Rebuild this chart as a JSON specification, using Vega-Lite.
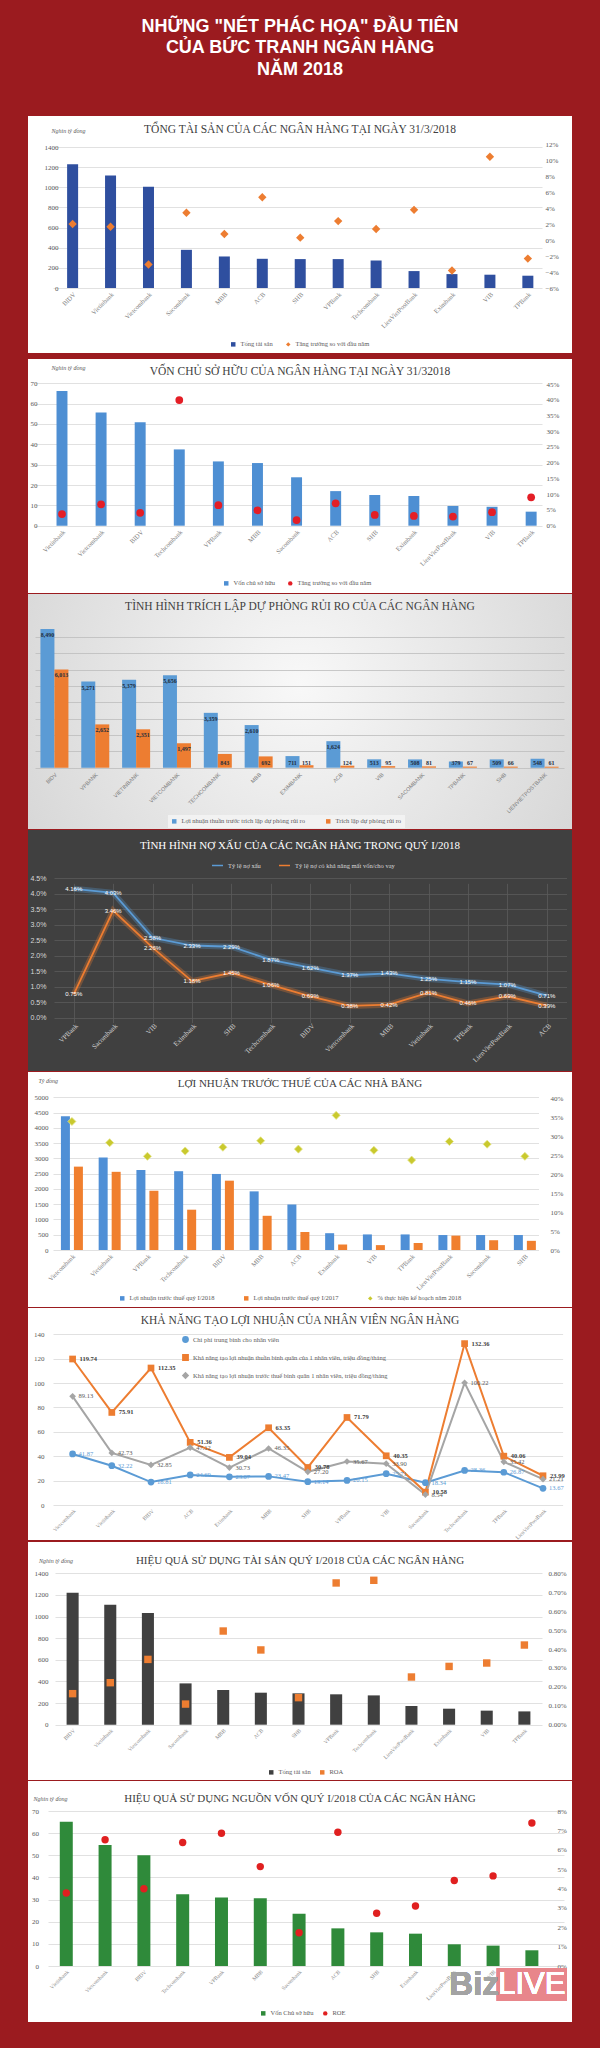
{
"$schema": "https://vega.github.io/schema/vega-lite/v6.json",
"background": "#9b1b1f",
"padding": {"left": 28, "right": 28, "top": 0, "bottom": 27},
"config": {
  "view": {"stroke": null},
  "axis": {"domain": false, "ticks": false, "labelFont": "Liberation Serif", "labelFontSize": 7, "labelColor": "#595959", "gridColor": "#d9d9d9", "gridWidth": 0.8, "titleFont": "Liberation Serif", "labelOverlap": false},
  "legend": {"labelFont": "Liberation Serif", "labelFontSize": 6.5, "labelColor": "#595959", "symbolSize": 20, "labelLimit": 400},
  "title": {"font": "Liberation Serif", "fontSize": 11, "fontWeight": "normal", "color": "#404040", "anchor": "middle"}
},
"datasets": {
  "p1": [
    {"bank": "BIDV", "assets": 1228, "growth": 0.020},
    {"bank": "Vietinbank", "assets": 1117, "growth": 0.0166},
    {"bank": "Vietcombank", "assets": 1005, "growth": -0.0306},
    {"bank": "Sacombank", "assets": 379, "growth": 0.034},
    {"bank": "MBB", "assets": 313, "growth": 0.0075},
    {"bank": "ACB", "assets": 290, "growth": 0.0534},
    {"bank": "SHB", "assets": 287, "growth": 0.0029},
    {"bank": "VPBank", "assets": 287, "growth": 0.0236},
    {"bank": "Techcombank", "assets": 273, "growth": 0.0137},
    {"bank": "LienVietPostBank", "assets": 168, "growth": 0.0377},
    {"bank": "Eximbank", "assets": 138, "growth": -0.0381},
    {"bank": "VIB", "assets": 132, "growth": 0.104},
    {"bank": "TPBank", "assets": 122, "growth": -0.0232}
  ],
  "p2": [
    {"bank": "Vietinbank", "equity": 66.2, "growth": 0.037},
    {"bank": "Vietcombank", "equity": 55.7, "growth": 0.068},
    {"bank": "BIDV", "equity": 50.8, "growth": 0.041},
    {"bank": "Techcombank", "equity": 37.5, "growth": 0.399},
    {"bank": "VPBank", "equity": 31.6, "growth": 0.065},
    {"bank": "MBB", "equity": 30.8, "growth": 0.049},
    {"bank": "Sacombank", "equity": 23.8, "growth": 0.018},
    {"bank": "ACB", "equity": 17.0, "growth": 0.071},
    {"bank": "SHB", "equity": 15.1, "growth": 0.034},
    {"bank": "Eximbank", "equity": 14.6, "growth": 0.031},
    {"bank": "LienVietPostBank", "equity": 9.7, "growth": 0.029},
    {"bank": "VIB", "equity": 9.3, "growth": 0.043},
    {"bank": "TPBank", "equity": 6.9, "growth": 0.09}
  ],
  "p3": [
    {"bank": "BIDV", "series": "Lợi nhuận thuần trước trích lập dự phòng rủi ro", "value": 8490},
    {"bank": "BIDV", "series": "Trích lập dự phòng rủi ro", "value": 6013},
    {"bank": "VPBANK", "series": "Lợi nhuận thuần trước trích lập dự phòng rủi ro", "value": 5271},
    {"bank": "VPBANK", "series": "Trích lập dự phòng rủi ro", "value": 2652},
    {"bank": "VIETINBANK", "series": "Lợi nhuận thuần trước trích lập dự phòng rủi ro", "value": 5379},
    {"bank": "VIETINBANK", "series": "Trích lập dự phòng rủi ro", "value": 2351},
    {"bank": "VIETCOMBANK", "series": "Lợi nhuận thuần trước trích lập dự phòng rủi ro", "value": 5656},
    {"bank": "VIETCOMBANK", "series": "Trích lập dự phòng rủi ro", "value": 1497},
    {"bank": "TECHCOMBANK", "series": "Lợi nhuận thuần trước trích lập dự phòng rủi ro", "value": 3359},
    {"bank": "TECHCOMBANK", "series": "Trích lập dự phòng rủi ro", "value": 843},
    {"bank": "MBB", "series": "Lợi nhuận thuần trước trích lập dự phòng rủi ro", "value": 2610},
    {"bank": "MBB", "series": "Trích lập dự phòng rủi ro", "value": 692},
    {"bank": "EXIMBANK", "series": "Lợi nhuận thuần trước trích lập dự phòng rủi ro", "value": 711},
    {"bank": "EXIMBANK", "series": "Trích lập dự phòng rủi ro", "value": 151},
    {"bank": "ACB", "series": "Lợi nhuận thuần trước trích lập dự phòng rủi ro", "value": 1624},
    {"bank": "ACB", "series": "Trích lập dự phòng rủi ro", "value": 124},
    {"bank": "VIB", "series": "Lợi nhuận thuần trước trích lập dự phòng rủi ro", "value": 513},
    {"bank": "VIB", "series": "Trích lập dự phòng rủi ro", "value": 95},
    {"bank": "SACOMBANK", "series": "Lợi nhuận thuần trước trích lập dự phòng rủi ro", "value": 508},
    {"bank": "SACOMBANK", "series": "Trích lập dự phòng rủi ro", "value": 81},
    {"bank": "TPBANK", "series": "Lợi nhuận thuần trước trích lập dự phòng rủi ro", "value": 379},
    {"bank": "TPBANK", "series": "Trích lập dự phòng rủi ro", "value": 67},
    {"bank": "SHB", "series": "Lợi nhuận thuần trước trích lập dự phòng rủi ro", "value": 509},
    {"bank": "SHB", "series": "Trích lập dự phòng rủi ro", "value": 66},
    {"bank": "LIENVIETPOSTBANK", "series": "Lợi nhuận thuần trước trích lập dự phòng rủi ro", "value": 548},
    {"bank": "LIENVIETPOSTBANK", "series": "Trích lập dự phòng rủi ro", "value": 61}
  ],
  "p4": [
    {"bank": "VPBank", "series": "Tỷ lệ nợ xấu", "value": 0.0416},
    {"bank": "Sacombank", "series": "Tỷ lệ nợ xấu", "value": 0.0403},
    {"bank": "VIB", "series": "Tỷ lệ nợ xấu", "value": 0.0258},
    {"bank": "Eximbank", "series": "Tỷ lệ nợ xấu", "value": 0.0233},
    {"bank": "SHB", "series": "Tỷ lệ nợ xấu", "value": 0.0229},
    {"bank": "Techcombank", "series": "Tỷ lệ nợ xấu", "value": 0.0187},
    {"bank": "BIDV", "series": "Tỷ lệ nợ xấu", "value": 0.0162},
    {"bank": "Vietcombank", "series": "Tỷ lệ nợ xấu", "value": 0.0137},
    {"bank": "MBB", "series": "Tỷ lệ nợ xấu", "value": 0.0143},
    {"bank": "Vietinbank", "series": "Tỷ lệ nợ xấu", "value": 0.0125},
    {"bank": "TPBank", "series": "Tỷ lệ nợ xấu", "value": 0.0115},
    {"bank": "LienVietPostBank", "series": "Tỷ lệ nợ xấu", "value": 0.0107},
    {"bank": "ACB", "series": "Tỷ lệ nợ xấu", "value": 0.0071},
    {"bank": "VPBank", "series": "Tỷ lệ nợ có khả năng mất vốn/cho vay", "value": 0.0075},
    {"bank": "Sacombank", "series": "Tỷ lệ nợ có khả năng mất vốn/cho vay", "value": 0.0346},
    {"bank": "VIB", "series": "Tỷ lệ nợ có khả năng mất vốn/cho vay", "value": 0.0226},
    {"bank": "Eximbank", "series": "Tỷ lệ nợ có khả năng mất vốn/cho vay", "value": 0.0118},
    {"bank": "SHB", "series": "Tỷ lệ nợ có khả năng mất vốn/cho vay", "value": 0.0145},
    {"bank": "Techcombank", "series": "Tỷ lệ nợ có khả năng mất vốn/cho vay", "value": 0.0106},
    {"bank": "BIDV", "series": "Tỷ lệ nợ có khả năng mất vốn/cho vay", "value": 0.0069},
    {"bank": "Vietcombank", "series": "Tỷ lệ nợ có khả năng mất vốn/cho vay", "value": 0.0038},
    {"bank": "MBB", "series": "Tỷ lệ nợ có khả năng mất vốn/cho vay", "value": 0.0042},
    {"bank": "Vietinbank", "series": "Tỷ lệ nợ có khả năng mất vốn/cho vay", "value": 0.0081},
    {"bank": "TPBank", "series": "Tỷ lệ nợ có khả năng mất vốn/cho vay", "value": 0.0046},
    {"bank": "LienVietPostBank", "series": "Tỷ lệ nợ có khả năng mất vốn/cho vay", "value": 0.0069},
    {"bank": "ACB", "series": "Tỷ lệ nợ có khả năng mất vốn/cho vay", "value": 0.0039}
  ],
  "p5": [
    {"bank": "Vietcombank", "series": "Lợi nhuận trước thuế quý I/2018", "value": 4380},
    {"bank": "Vietcombank", "series": "Lợi nhuận trước thuế quý I/2017", "value": 2730},
    {"bank": "Vietinbank", "series": "Lợi nhuận trước thuế quý I/2018", "value": 3030},
    {"bank": "Vietinbank", "series": "Lợi nhuận trước thuế quý I/2017", "value": 2560},
    {"bank": "VPBank", "series": "Lợi nhuận trước thuế quý I/2018", "value": 2620},
    {"bank": "VPBank", "series": "Lợi nhuận trước thuế quý I/2017", "value": 1940},
    {"bank": "Techcombank", "series": "Lợi nhuận trước thuế quý I/2018", "value": 2580},
    {"bank": "Techcombank", "series": "Lợi nhuận trước thuế quý I/2017", "value": 1320},
    {"bank": "BIDV", "series": "Lợi nhuận trước thuế quý I/2018", "value": 2490},
    {"bank": "BIDV", "series": "Lợi nhuận trước thuế quý I/2017", "value": 2270},
    {"bank": "MBB", "series": "Lợi nhuận trước thuế quý I/2018", "value": 1920},
    {"bank": "MBB", "series": "Lợi nhuận trước thuế quý I/2017", "value": 1120},
    {"bank": "ACB", "series": "Lợi nhuận trước thuế quý I/2018", "value": 1490},
    {"bank": "ACB", "series": "Lợi nhuận trước thuế quý I/2017", "value": 590},
    {"bank": "Eximbank", "series": "Lợi nhuận trước thuế quý I/2018", "value": 550},
    {"bank": "Eximbank", "series": "Lợi nhuận trước thuế quý I/2017", "value": 180},
    {"bank": "VIB", "series": "Lợi nhuận trước thuế quý I/2018", "value": 510},
    {"bank": "VIB", "series": "Lợi nhuận trước thuế quý I/2017", "value": 160},
    {"bank": "TPBank", "series": "Lợi nhuận trước thuế quý I/2018", "value": 510},
    {"bank": "TPBank", "series": "Lợi nhuận trước thuế quý I/2017", "value": 230},
    {"bank": "LienVietPostBank", "series": "Lợi nhuận trước thuế quý I/2018", "value": 490},
    {"bank": "LienVietPostBank", "series": "Lợi nhuận trước thuế quý I/2017", "value": 470},
    {"bank": "Sacombank", "series": "Lợi nhuận trước thuế quý I/2018", "value": 490},
    {"bank": "Sacombank", "series": "Lợi nhuận trước thuế quý I/2017", "value": 320},
    {"bank": "SHB", "series": "Lợi nhuận trước thuế quý I/2018", "value": 490},
    {"bank": "SHB", "series": "Lợi nhuận trước thuế quý I/2017", "value": 300}
  ],
  "p5b": [
    {"bank": "Vietcombank", "plan": 0.339},
    {"bank": "Vietinbank", "plan": 0.283},
    {"bank": "VPBank", "plan": 0.247},
    {"bank": "Techcombank", "plan": 0.261},
    {"bank": "BIDV", "plan": 0.271},
    {"bank": "MBB", "plan": 0.288},
    {"bank": "ACB", "plan": 0.266},
    {"bank": "Eximbank", "plan": 0.355},
    {"bank": "VIB", "plan": 0.263},
    {"bank": "TPBank", "plan": 0.237},
    {"bank": "LienVietPostBank", "plan": 0.286},
    {"bank": "Sacombank", "plan": 0.279},
    {"bank": "SHB", "plan": 0.247}
  ],
  "p6": [
    {"bank": "Vietcombank", "k": "a", "series": "Chi phí trung bình cho nhân viên", "value": 41.87},
    {"bank": "Vietinbank", "k": "a", "series": "Chi phí trung bình cho nhân viên", "value": 32.22},
    {"bank": "BIDV", "k": "a", "series": "Chi phí trung bình cho nhân viên", "value": 18.81},
    {"bank": "ACB", "k": "a", "series": "Chi phí trung bình cho nhân viên", "value": 24.69},
    {"bank": "Eximbank", "k": "a", "series": "Chi phí trung bình cho nhân viên", "value": 23.07},
    {"bank": "MBB", "k": "a", "series": "Chi phí trung bình cho nhân viên", "value": 23.47},
    {"bank": "SHB", "k": "a", "series": "Chi phí trung bình cho nhân viên", "value": 19.14},
    {"bank": "VPBank", "k": "a", "series": "Chi phí trung bình cho nhân viên", "value": 20.15},
    {"bank": "VIB", "k": "a", "series": "Chi phí trung bình cho nhân viên", "value": 25.71},
    {"bank": "Sacombank", "k": "a", "series": "Chi phí trung bình cho nhân viên", "value": 18.34},
    {"bank": "Techcombank", "k": "a", "series": "Chi phí trung bình cho nhân viên", "value": 28.36},
    {"bank": "TPBank", "k": "a", "series": "Chi phí trung bình cho nhân viên", "value": 26.87},
    {"bank": "LienVietPostBank", "k": "a", "series": "Chi phí trung bình cho nhân viên", "value": 13.67},
    {"bank": "Vietcombank", "k": "b", "series": "Khả năng tạo lợi nhuận thuần bình quân của 1 nhân viên, triệu đồng/tháng", "value": 119.74},
    {"bank": "Vietinbank", "k": "b", "series": "Khả năng tạo lợi nhuận thuần bình quân của 1 nhân viên, triệu đồng/tháng", "value": 75.91},
    {"bank": "BIDV", "k": "b", "series": "Khả năng tạo lợi nhuận thuần bình quân của 1 nhân viên, triệu đồng/tháng", "value": 112.35},
    {"bank": "ACB", "k": "b", "series": "Khả năng tạo lợi nhuận thuần bình quân của 1 nhân viên, triệu đồng/tháng", "value": 51.36},
    {"bank": "Eximbank", "k": "b", "series": "Khả năng tạo lợi nhuận thuần bình quân của 1 nhân viên, triệu đồng/tháng", "value": 39.04},
    {"bank": "MBB", "k": "b", "series": "Khả năng tạo lợi nhuận thuần bình quân của 1 nhân viên, triệu đồng/tháng", "value": 63.35},
    {"bank": "SHB", "k": "b", "series": "Khả năng tạo lợi nhuận thuần bình quân của 1 nhân viên, triệu đồng/tháng", "value": 30.78},
    {"bank": "VPBank", "k": "b", "series": "Khả năng tạo lợi nhuận thuần bình quân của 1 nhân viên, triệu đồng/tháng", "value": 71.79},
    {"bank": "VIB", "k": "b", "series": "Khả năng tạo lợi nhuận thuần bình quân của 1 nhân viên, triệu đồng/tháng", "value": 40.35},
    {"bank": "Sacombank", "k": "b", "series": "Khả năng tạo lợi nhuận thuần bình quân của 1 nhân viên, triệu đồng/tháng", "value": 10.58},
    {"bank": "Techcombank", "k": "b", "series": "Khả năng tạo lợi nhuận thuần bình quân của 1 nhân viên, triệu đồng/tháng", "value": 132.36},
    {"bank": "TPBank", "k": "b", "series": "Khả năng tạo lợi nhuận thuần bình quân của 1 nhân viên, triệu đồng/tháng", "value": 40.06},
    {"bank": "LienVietPostBank", "k": "b", "series": "Khả năng tạo lợi nhuận thuần bình quân của 1 nhân viên, triệu đồng/tháng", "value": 23.99},
    {"bank": "Vietcombank", "k": "c", "series": "Khả năng tạo lợi nhuận trước thuế bình quân 1 nhân viên, triệu đồng/tháng", "value": 89.13},
    {"bank": "Vietinbank", "k": "c", "series": "Khả năng tạo lợi nhuận trước thuế bình quân 1 nhân viên, triệu đồng/tháng", "value": 42.73},
    {"bank": "BIDV", "k": "c", "series": "Khả năng tạo lợi nhuận trước thuế bình quân 1 nhân viên, triệu đồng/tháng", "value": 32.85},
    {"bank": "ACB", "k": "c", "series": "Khả năng tạo lợi nhuận trước thuế bình quân 1 nhân viên, triệu đồng/tháng", "value": 47.12},
    {"bank": "Eximbank", "k": "c", "series": "Khả năng tạo lợi nhuận trước thuế bình quân 1 nhân viên, triệu đồng/tháng", "value": 30.73},
    {"bank": "MBB", "k": "c", "series": "Khả năng tạo lợi nhuận trước thuế bình quân 1 nhân viên, triệu đồng/tháng", "value": 46.35},
    {"bank": "SHB", "k": "c", "series": "Khả năng tạo lợi nhuận trước thuế bình quân 1 nhân viên, triệu đồng/tháng", "value": 27.20},
    {"bank": "VPBank", "k": "c", "series": "Khả năng tạo lợi nhuận trước thuế bình quân 1 nhân viên, triệu đồng/tháng", "value": 35.67},
    {"bank": "VIB", "k": "c", "series": "Khả năng tạo lợi nhuận trước thuế bình quân 1 nhân viên, triệu đồng/tháng", "value": 33.90},
    {"bank": "Sacombank", "k": "c", "series": "Khả năng tạo lợi nhuận trước thuế bình quân 1 nhân viên, triệu đồng/tháng", "value": 8.54},
    {"bank": "Techcombank", "k": "c", "series": "Khả năng tạo lợi nhuận trước thuế bình quân 1 nhân viên, triệu đồng/tháng", "value": 100.22},
    {"bank": "TPBank", "k": "c", "series": "Khả năng tạo lợi nhuận trước thuế bình quân 1 nhân viên, triệu đồng/tháng", "value": 35.42},
    {"bank": "LienVietPostBank", "k": "c", "series": "Khả năng tạo lợi nhuận trước thuế bình quân 1 nhân viên, triệu đồng/tháng", "value": 21.21}
  ],
  "p7": [
    {"bank": "BIDV", "assets": 1221, "roa": 0.00164},
    {"bank": "Vietinbank", "assets": 1110, "roa": 0.00222},
    {"bank": "Vietcombank", "assets": 1033, "roa": 0.00345},
    {"bank": "Sacombank", "assets": 382, "roa": 0.00109},
    {"bank": "MBB", "assets": 321, "roa": 0.00495},
    {"bank": "ACB", "assets": 296, "roa": 0.00395},
    {"bank": "SHB", "assets": 290, "roa": 0.00143},
    {"bank": "VPBank", "assets": 281, "roa": 0.00749},
    {"bank": "Techcombank", "assets": 271, "roa": 0.00763},
    {"bank": "LienVietPostBank", "assets": 173, "roa": 0.00252},
    {"bank": "Eximbank", "assets": 148, "roa": 0.00308},
    {"bank": "VIB", "assets": 130, "roa": 0.00326},
    {"bank": "TPBank", "assets": 123, "roa": 0.00421}
  ],
  "p8": [
    {"bank": "Vietinbank", "equity": 65.2, "roe": 0.0377},
    {"bank": "Vietcombank", "equity": 54.6, "roe": 0.0652},
    {"bank": "BIDV", "equity": 50.0, "roe": 0.0399},
    {"bank": "Techcombank", "equity": 32.4, "roe": 0.0637},
    {"bank": "VPBank", "equity": 30.9, "roe": 0.0685},
    {"bank": "MBB", "equity": 30.6, "roe": 0.0513},
    {"bank": "Sacombank", "equity": 23.6, "roe": 0.0172},
    {"bank": "ACB", "equity": 17.0, "roe": 0.069},
    {"bank": "SHB", "equity": 15.2, "roe": 0.0272},
    {"bank": "Eximbank", "equity": 14.6, "roe": 0.031},
    {"bank": "LienVietPostBank", "equity": 9.8, "roe": 0.0441},
    {"bank": "VIB", "equity": 9.2, "roe": 0.0465},
    {"bank": "TPBank", "equity": 7.1, "roe": 0.0738}
  ]
},
"spacing": 6,
"resolve": {"scale": {"color": "independent", "shape": "independent", "x": "independent", "y": "independent"}, "legend": {"color": "independent", "shape": "independent"}},
"vconcat": [
  {
    "width": 544, "height": 110,
    "data": {"values": [
      {"i": 1, "line": "NHỮNG \"NÉT PHÁC HỌA\" ĐẦU TIÊN"},
      {"i": 2, "line": "CỦA BỨC TRANH NGÂN HÀNG"},
      {"i": 3, "line": "NĂM 2018"}
    ]},
    "mark": {"type": "text", "font": "Liberation Sans", "fontSize": 18, "fontWeight": "bold", "color": "white", "baseline": "middle", "align": "center"},
    "encoding": {
      "y": {"field": "i", "type": "quantitative", "scale": {"domain": [1, 3], "range": [26.7, 69.7], "nice": false, "zero": false}, "axis": null},
      "text": {"field": "line"}
    }
  },
  {
    "width": 544, "height": 237,
    "view": {"fill": "white", "stroke": null},
    "title": {"text": "TỔNG TÀI SẢN CỦA CÁC NGÂN HÀNG TẠI NGÀY 31/3/2018", "offset": -19.5, "fontSize": 11.5},
    "data": {"name": "p1"},
    "layer": [
      {"mark": {"type": "bar"},
       "encoding": {
         "x": {"field": "bank", "type": "nominal", "title": null,
               "scale": {"domain": ["BIDV","Vietinbank","Vietcombank","Sacombank","MBB","ACB","SHB","VPBank","Techcombank","LienVietPostBank","Eximbank","VIB","TPBank"], "range": [25, 514], "paddingInner": 0.71, "paddingOuter": 0.3, "align": 0.62},
               "axis": {"labelAngle": -45, "offset": -65, "labelFontSize": 6.5, "labelColor": "#7f7f7f", "labelPadding": 3}},
         "y": {"field": "assets", "type": "quantitative",
               "scale": {"domain": [0, 1400], "range": [172, 31], "nice": false},
               "axis": {"values": [0,200,400,600,800,1000,1200,1400], "format": "d", "offset": -32, "labelPadding": 2, "title": "Nghìn tỷ đồng", "titleAngle": 0, "titleX": -9, "titleY": 14, "titleAlign": "left", "titleBaseline": "middle", "titleFontSize": 6, "titleFontStyle": "italic", "titleFontWeight": "normal", "titleColor": "#595959"}},
         "color": {"datum": "Tổng tài sản", "scale": {"domain": ["Tổng tài sản", "Tăng trưởng so với đầu năm"], "range": ["#2f4f9f", "#ed7d31"]},
                   "legend": {"orient": "none", "legendX": 202, "legendY": 225, "direction": "horizontal", "title": null, "columnPadding": 12,
                              "encode": {"symbols": {"update": {"shape": {"signal": "datum.value === 'Tổng tài sản' ? 'square' : 'diamond'"}}}}}}
       }},
      {"mark": {"type": "point", "shape": "diamond", "filled": true, "size": 70, "opacity": 1},
       "encoding": {
         "x": {"field": "bank", "type": "nominal"},
         "y": {"field": "growth", "type": "quantitative",
               "scale": {"domain": [-0.06, 0.12], "range": [172, 28], "nice": false},
               "axis": {"orient": "right", "values": [-0.06,-0.04,-0.02,0,0.02,0.04,0.06,0.08,0.1,0.12], "format": ".0%", "offset": -29, "labelPadding": 2, "grid": false, "title": null}},
         "color": {"datum": "Tăng trưởng so với đầu năm"}
       }}
    ],
    "resolve": {"scale": {"y": "independent"}}
  },
  {
    "spacing": 1,
    "resolve": {"scale": {"color": "independent", "shape": "independent", "x": "independent", "y": "independent"}, "legend": {"color": "independent", "shape": "independent"}},
    "vconcat": [
      {
        "width": 544, "height": 234,
        "view": {"fill": "white", "stroke": null},
        "title": {"text": "VỐN CHỦ SỞ HỮU CỦA NGÂN HÀNG TẠI NGÀY 31/32018", "offset": -18, "fontSize": 11.5},
        "data": {"name": "p2"},
        "layer": [
          {"mark": {"type": "bar"},
           "encoding": {
             "x": {"field": "bank", "type": "nominal", "title": null,
                   "scale": {"domain": ["Vietinbank","Vietcombank","BIDV","Techcombank","VPBank","MBB","Sacombank","ACB","SHB","Eximbank","LienVietPostBank","VIB","TPBank"], "range": [7, 514], "paddingInner": 0.72, "paddingOuter": 0.344, "align": 0.8},
                   "axis": {"labelAngle": -45, "offset": -67.3, "labelFontSize": 6.5, "labelColor": "#7f7f7f", "labelPadding": 3}},
             "y": {"field": "equity", "type": "quantitative",
                   "scale": {"domain": [0, 70], "range": [166.7, 24.3], "nice": false},
                   "axis": {"values": [0,10,20,30,40,50,60,70], "offset": -11, "labelPadding": 2, "title": "Nghìn tỷ đồng", "titleAngle": 0, "titleX": 12, "titleY": 8, "titleAlign": "left", "titleBaseline": "middle", "titleFontSize": 6, "titleFontStyle": "italic", "titleFontWeight": "normal", "titleColor": "#595959"}},
             "color": {"datum": "Vốn chủ sở hữu", "scale": {"domain": ["Vốn chủ sở hữu", "Tăng trưởng so với đầu năm"], "range": ["#4e8fd3", "#e41e26"]},
                       "legend": {"orient": "none", "legendX": 195, "legendY": 221, "direction": "horizontal", "title": null, "columnPadding": 12,
                                  "encode": {"symbols": {"update": {"shape": {"signal": "datum.value === 'Vốn chủ sở hữu' ? 'square' : 'circle'"}}}}}}
           }},
          {"mark": {"type": "point", "shape": "circle", "filled": true, "size": 60, "opacity": 1},
           "encoding": {
             "x": {"field": "bank", "type": "nominal"},
             "y": {"field": "growth", "type": "quantitative",
                   "scale": {"domain": [0, 0.45], "range": [166.7, 25], "nice": false},
                   "axis": {"orient": "right", "values": [0,0.05,0.1,0.15,0.2,0.25,0.3,0.35,0.4,0.45], "format": ".0%", "offset": -28, "labelPadding": 2, "grid": false, "title": null}},
             "color": {"datum": "Tăng trưởng so với đầu năm"}
           }}
        ],
        "resolve": {"scale": {"y": "independent"}}
      },
      {
        "width": 544, "height": 235,
        "view": {"fill": {"gradient": "radial", "x1": 0.5, "y1": 0.45, "x2": 0.5, "y2": 0.45, "r1": 0, "r2": 0.75, "stops": [{"offset": 0, "color": "#f8f8f8"}, {"offset": 1, "color": "#cdcdcd"}]}, "stroke": null},
        "title": {"text": "TÌNH HÌNH TRÍCH LẬP DỰ PHÒNG RỦI RO CỦA CÁC NGÂN HÀNG", "offset": -18.5, "fontSize": 11.5},
        "data": {"name": "p3"},
        "encoding": {
          "x": {"field": "bank", "type": "nominal", "title": null,
                "scale": {"domain": ["BIDV","VPBANK","VIETINBANK","VIETCOMBANK","TECHCOMBANK","MBB","EXIMBANK","ACB","VIB","SACOMBANK","TPBANK","SHB","LIENVIETPOSTBANK"], "range": [7, 536], "paddingInner": 0.265, "paddingOuter": 0.108},
                "axis": {"labelAngle": -45, "offset": -61.3, "labelFontSize": 5.5, "labelColor": "#7f7f7f", "labelPadding": 4, "labelFont": "Liberation Sans"}},
          "y": {"field": "value", "type": "quantitative",
                "scale": {"domain": [0, 9000], "range": [173.7, 26.7], "nice": false},
                "axis": {"values": [0,1000,2000,3000,4000,5000,6000,7000,8000], "labels": false, "title": null, "gridColor": "#bdbdbd"}}
        },
        "layer": [
          {"transform": [{"filter": "datum.series === 'Lợi nhuận thuần trước trích lập dự phòng rủi ro'"}],
           "mark": {"type": "bar", "width": 14, "xOffset": -7},
           "encoding": {
             "color": {"datum": "Lợi nhuận thuần trước trích lập dự phòng rủi ro", "scale": {"domain": ["Lợi nhuận thuần trước trích lập dự phòng rủi ro", "Trích lập dự phòng rủi ro"], "range": ["#5b9bd5", "#ed7d31"]},
                       "legend": {"orient": "none", "legendX": 140, "legendY": 221, "direction": "horizontal", "title": null, "columnPadding": 20, "fillColor": "#f2f2f2", "padding": 3, "symbolType": "square"}}
           }},
          {"transform": [{"filter": "datum.series === 'Trích lập dự phòng rủi ro'"}],
           "mark": {"type": "bar", "width": 14, "xOffset": 7},
           "encoding": {"color": {"datum": "Trích lập dự phòng rủi ro"}}},
          {"transform": [{"filter": "datum.series === 'Lợi nhuận thuần trước trích lập dự phòng rủi ro' && datum.value >= 1000"}],
           "mark": {"type": "text", "baseline": "top", "dy": 3, "xOffset": -7, "fontSize": 6, "fontWeight": "bold", "font": "Liberation Serif", "color": "#1f2d3d"},
           "encoding": {"text": {"field": "value", "format": ","}}},
          {"transform": [{"filter": "datum.series === 'Lợi nhuận thuần trước trích lập dự phòng rủi ro' && datum.value < 1000"}],
           "mark": {"type": "text", "baseline": "bottom", "dy": -2, "xOffset": -7, "fontSize": 6, "fontWeight": "bold", "font": "Liberation Serif", "color": "#1f2d3d"},
           "encoding": {"text": {"field": "value", "format": ","}, "y": {"datum": 0}}},
          {"transform": [{"filter": "datum.series === 'Trích lập dự phòng rủi ro' && datum.value >= 1000"}],
           "mark": {"type": "text", "baseline": "top", "dy": 3, "xOffset": 7, "fontSize": 6, "fontWeight": "bold", "font": "Liberation Serif", "color": "#1f2d3d"},
           "encoding": {"text": {"field": "value", "format": ","}}},
          {"transform": [{"filter": "datum.series === 'Trích lập dự phòng rủi ro' && datum.value < 1000"}],
           "mark": {"type": "text", "baseline": "bottom", "dy": -2, "xOffset": 7, "fontSize": 6, "fontWeight": "bold", "font": "Liberation Serif", "color": "#1f2d3d"},
           "encoding": {"text": {"field": "value", "format": ","}, "y": {"datum": 0}}}
        ]
      },
      {
        "width": 544, "height": 241,
        "view": {"fill": "#404040", "stroke": null},
        "title": {"text": "TÌNH HÌNH NỢ XẤU CỦA CÁC NGÂN HÀNG TRONG QUÝ I/2018", "color": "white", "offset": -20.5},
        "data": {"name": "p4"},
        "encoding": {
          "x": {"field": "bank", "type": "nominal", "title": null,
                "scale": {"domain": ["VPBank","Sacombank","VIB","Eximbank","SHB","Techcombank","BIDV","Vietcombank","MBB","Vietinbank","TPBank","LienVietPostBank","ACB"], "range": [26, 538.5], "paddingInner": 0, "paddingOuter": 0},
                "axis": {"labelAngle": -45, "offset": -53.3, "grid": true, "bandPosition": 0, "gridColor": "#5a5a5a", "labelColor": "#d0d0d0", "labelFontSize": 7, "labelPadding": 4}},
          "y": {"field": "value", "type": "quantitative",
                "scale": {"domain": [0, 0.045], "range": [187.7, 48.3], "nice": false},
                "axis": {"values": [0,0.005,0.01,0.015,0.02,0.025,0.03,0.035,0.04,0.045], "format": ".1%", "offset": -20, "labelPadding": 2, "gridColor": "#5a5a5a", "labelColor": "#d9d9d9", "labelFont": "Liberation Sans", "labelFontSize": 7, "title": null}},
          "color": {"field": "series", "type": "nominal", "scale": {"domain": ["Tỷ lệ nợ xấu", "Tỷ lệ nợ có khả năng mất vốn/cho vay"], "range": ["#5b9bd5", "#ed7d31"]},
                    "legend": {"orient": "none", "legendX": 183, "legendY": 29, "direction": "horizontal", "title": null, "symbolType": "stroke", "symbolStrokeWidth": 1.5, "symbolSize": 120, "symbolOpacity": 1, "labelColor": "#d9d9d9", "columnPadding": 15}}
        },
        "layer": [
          {"mark": {"type": "line", "strokeWidth": 6, "opacity": 0.3}},
          {"mark": {"type": "line", "strokeWidth": 1.8}},
          {"mark": {"type": "text", "fontSize": 6, "font": "Liberation Sans"},
           "encoding": {"text": {"field": "value", "format": ".2%"}, "color": {"value": "white"}}}
        ]
      },
      {
        "width": 544, "height": 235,
        "view": {"fill": "white", "stroke": null},
        "title": {"text": "LỢI NHUẬN TRƯỚC THUẾ CỦA CÁC NHÀ BĂNG", "offset": -16.5},
        "layer": [
          {"data": {"name": "p5"},
           "transform": [{"filter": "datum.series === 'Lợi nhuận trước thuế quý I/2018'"}],
           "mark": {"type": "bar", "width": 9, "xOffset": -6.5},
           "encoding": {
             "x": {"field": "bank", "type": "nominal", "title": null,
                   "scale": {"domain": ["Vietcombank","Vietinbank","VPBank","Techcombank","BIDV","MBB","ACB","Eximbank","VIB","TPBank","LienVietPostBank","Sacombank","SHB"], "range": [25, 510.5], "paddingInner": 0.43, "paddingOuter": 0.146, "align": 0.74},
                   "axis": {"labelAngle": -45, "offset": -57, "labelFontSize": 6.5, "labelColor": "#7f7f7f", "labelPadding": 3}},
             "y": {"field": "value", "type": "quantitative",
                   "scale": {"domain": [0, 5000], "range": [178, 25.3], "nice": false},
                   "axis": {"values": [0,500,1000,1500,2000,2500,3000,3500,4000,4500,5000], "format": "d", "offset": -22, "labelPadding": 2, "title": "Tỷ đồng", "titleAngle": 0, "titleX": -12, "titleY": 8, "titleAlign": "left", "titleBaseline": "middle", "titleFontSize": 6, "titleFontStyle": "italic", "titleFontWeight": "normal", "titleColor": "#595959"}},
             "color": {"datum": "Lợi nhuận trước thuế quý I/2018", "scale": {"domain": ["Lợi nhuận trước thuế quý I/2018", "Lợi nhuận trước thuế quý I/2017", "% thực hiện kế hoạch năm 2018"], "range": ["#4f8fd6", "#f07f2e", "#c9c92e"]},
                       "legend": {"orient": "none", "legendX": 91, "legendY": 223, "direction": "horizontal", "title": null, "columnPadding": 28,
                                  "encode": {"symbols": {"update": {"shape": {"signal": "datum.value === '% thực hiện kế hoạch năm 2018' ? 'diamond' : 'square'"}}}}}}
           }},
          {"data": {"name": "p5"},
           "transform": [{"filter": "datum.series === 'Lợi nhuận trước thuế quý I/2017'"}],
           "mark": {"type": "bar", "width": 9, "xOffset": 6.5},
           "encoding": {
             "x": {"field": "bank", "type": "nominal"},
             "y": {"field": "value", "type": "quantitative", "scale": {"domain": [0, 5000], "range": [178, 25.3], "nice": false}, "axis": null},
             "color": {"datum": "Lợi nhuận trước thuế quý I/2017"}
           }},
          {"data": {"name": "p5b"},
           "mark": {"type": "point", "shape": "diamond", "filled": true, "size": 65, "opacity": 1, "stroke": "#e4e48a", "strokeWidth": 0.8},
           "encoding": {
             "x": {"field": "bank", "type": "nominal"},
             "y": {"field": "plan", "type": "quantitative",
                   "scale": {"domain": [0, 0.4], "range": [178, 26.3], "nice": false},
                   "axis": {"orient": "right", "values": [0,0.05,0.1,0.15,0.2,0.25,0.3,0.35,0.4], "format": ".0%", "offset": -24, "labelPadding": 2, "grid": false, "title": null}},
             "color": {"datum": "% thực hiện kế hoạch năm 2018"}
           }}
        ],
        "resolve": {"scale": {"y": "independent"}}
      },
      {
        "width": 544, "height": 232,
        "view": {"fill": "white", "stroke": null},
        "title": {"text": "KHẢ NĂNG TẠO LỢI NHUẬN CỦA NHÂN VIÊN NGÂN HÀNG", "offset": -18.5, "fontSize": 11.5},
        "data": {"name": "p6"},
        "encoding": {
          "x": {"field": "bank", "type": "nominal", "title": null,
                "scale": {"domain": ["Vietcombank","Vietinbank","BIDV","ACB","Eximbank","MBB","SHB","VPBank","VIB","Sacombank","Techcombank","TPBank","LienVietPostBank"], "range": [25, 534.6], "paddingInner": 0, "paddingOuter": 0},
                "axis": {"labelAngle": -45, "offset": -35, "labelFontSize": 5.5, "labelColor": "#8c8c8c", "labelPadding": 3}},
          "y": {"field": "value", "type": "quantitative",
                "scale": {"domain": [0, 140], "range": [197, 26.3], "nice": false},
                "axis": {"values": [0,20,40,60,80,100,120,140], "offset": -18, "labelPadding": 2, "title": null}},
          "color": {"field": "series", "type": "nominal",
                    "scale": {"domain": ["Chi phí trung bình cho nhân viên", "Khả năng tạo lợi nhuận thuần bình quân của 1 nhân viên, triệu đồng/tháng", "Khả năng tạo lợi nhuận trước thuế bình quân 1 nhân viên, triệu đồng/tháng"], "range": ["#5b9bd5", "#ed7d31", "#a5a5a5"]},
                    "legend": {"orient": "none", "legendX": 154, "legendY": 28, "direction": "vertical", "title": null, "symbolSize": 28, "symbolOpacity": 1, "rowPadding": 5}}
        },
        "layer": [
          {"mark": {"type": "line", "strokeWidth": 2}},
          {"mark": {"type": "point", "filled": true, "size": 45, "opacity": 1},
           "encoding": {"shape": {"field": "series", "type": "nominal", "scale": {"domain": ["Chi phí trung bình cho nhân viên", "Khả năng tạo lợi nhuận thuần bình quân của 1 nhân viên, triệu đồng/tháng", "Khả năng tạo lợi nhuận trước thuế bình quân 1 nhân viên, triệu đồng/tháng"], "range": ["circle", "square", "diamond"]}, "legend": null}}},
          {"transform": [{"filter": "datum.k === 'a'"}],
           "mark": {"type": "text", "align": "left", "dx": 6, "fontSize": 6.5, "font": "Liberation Serif"},
           "encoding": {"text": {"field": "value", "format": ".2f"}, "color": {"value": "#5b9bd5"}}},
          {"transform": [{"filter": "datum.k === 'b'"}],
           "mark": {"type": "text", "align": "left", "dx": 7, "fontSize": 6.5, "fontWeight": "bold", "font": "Liberation Serif"},
           "encoding": {"text": {"field": "value", "format": ".2f"}, "color": {"value": "#404040"}}},
          {"transform": [{"filter": "datum.k === 'c'"}],
           "mark": {"type": "text", "align": "left", "dx": 6, "fontSize": 6.5, "font": "Liberation Serif"},
           "encoding": {"text": {"field": "value", "format": ".2f"}, "color": {"value": "#595959"}}}
        ]
      },
      {
        "width": 544, "height": 238,
        "view": {"fill": "white", "stroke": null},
        "title": {"text": "HIỆU QUẢ SỬ DỤNG TÀI SẢN QUÝ I/2018 CỦA CÁC NGÂN HÀNG", "offset": -23.5},
        "data": {"name": "p7"},
        "layer": [
          {"mark": {"type": "bar"},
           "encoding": {
             "x": {"field": "bank", "type": "nominal", "title": null,
                   "scale": {"domain": ["BIDV","Vietinbank","Vietcombank","Sacombank","MBB","ACB","SHB","VPBank","Techcombank","LienVietPostBank","Eximbank","VIB","TPBank"], "range": [27, 514], "paddingInner": 0.68, "paddingOuter": 0.308, "align": 0.5},
                   "axis": {"labelAngle": -45, "offset": -55.3, "labelFontSize": 5.5, "labelColor": "#8c8c8c", "labelPadding": 3}},
             "y": {"field": "assets", "type": "quantitative",
                   "scale": {"domain": [0, 1400], "range": [182.7, 31.3], "nice": false},
                   "axis": {"values": [0,200,400,600,800,1000,1200,1400], "format": "d", "offset": -22, "labelPadding": 2, "title": "Nghìn tỷ đồng", "titleAngle": 0, "titleX": -11.5, "titleY": 18, "titleAlign": "left", "titleBaseline": "middle", "titleFontSize": 6, "titleFontStyle": "italic", "titleFontWeight": "normal", "titleColor": "#595959"}},
             "color": {"datum": "Tổng tài sản", "scale": {"domain": ["Tổng tài sản", "ROA"], "range": ["#404040", "#ed7d31"]},
                       "legend": {"orient": "none", "legendX": 240, "legendY": 227, "direction": "horizontal", "title": null, "columnPadding": 8, "symbolType": "square"}}
           }},
          {"mark": {"type": "point", "shape": "square", "filled": true, "size": 55, "opacity": 1},
           "encoding": {
             "x": {"field": "bank", "type": "nominal"},
             "y": {"field": "roa", "type": "quantitative",
                   "scale": {"domain": [0, 0.008], "range": [182.7, 31.3], "nice": false},
                   "axis": {"orient": "right", "values": [0,0.001,0.002,0.003,0.004,0.005,0.006,0.007,0.008], "format": ".2%", "offset": -26, "labelPadding": 2, "grid": false, "title": null}},
             "color": {"datum": "ROA"}
           }}
        ],
        "resolve": {"scale": {"y": "independent"}}
      },
      {
        "width": 544, "height": 241,
        "view": {"fill": "white", "stroke": null},
        "title": {"text": "HIỆU QUẢ SỬ DỤNG NGUỒN VỐN QUÝ I/2018 CỦA CÁC NGÂN HÀNG", "offset": -22.5},
        "data": {"name": "p8"},
        "layer": [
          {"mark": {"type": "bar"},
           "encoding": {
             "x": {"field": "bank", "type": "nominal", "title": null,
                   "scale": {"domain": ["Vietinbank","Vietcombank","BIDV","Techcombank","VPBank","MBB","Sacombank","ACB","SHB","Eximbank","LienVietPostBank","VIB","TPBank"], "range": [20, 536], "paddingInner": 0.665, "paddingOuter": 0.482, "align": 0.315},
                   "axis": {"labelAngle": -45, "offset": -56, "labelFontSize": 5.5, "labelColor": "#8c8c8c", "labelPadding": 3}},
             "y": {"field": "equity", "type": "quantitative",
                   "scale": {"domain": [0, 70], "range": [185, 30], "nice": false},
                   "axis": {"values": [0,10,20,30,40,50,60,70], "offset": -12.5, "labelPadding": 2, "title": "Nghìn tỷ đồng", "titleAngle": 0, "titleX": -7.5, "titleY": 17, "titleAlign": "left", "titleBaseline": "middle", "titleFontSize": 6, "titleFontStyle": "italic", "titleFontWeight": "normal", "titleColor": "#595959"}},
             "color": {"datum": "Vốn Chủ sở hữu", "scale": {"domain": ["Vốn Chủ sở hữu", "ROE"], "range": ["#2f8a3a", "#e02020"]},
                       "legend": {"orient": "none", "legendX": 232, "legendY": 229, "direction": "horizontal", "title": null, "columnPadding": 8,
                                  "encode": {"symbols": {"update": {"shape": {"signal": "datum.value === 'ROE' ? 'circle' : 'square'"}}}}}}
           }},
          {"mark": {"type": "point", "shape": "circle", "filled": true, "size": 55, "opacity": 1},
           "encoding": {
             "x": {"field": "bank", "type": "nominal"},
             "y": {"field": "roe", "type": "quantitative",
                   "scale": {"domain": [0, 0.08], "range": [185, 30], "nice": false},
                   "axis": {"orient": "right", "values": [0,0.01,0.02,0.03,0.04,0.05,0.06,0.07,0.08], "format": ".0%", "offset": -17, "labelPadding": 2, "grid": false, "title": null}},
             "color": {"datum": "ROE"}
           }},
          {"mark": {"type": "point", "shape": "M-1,-0.47H1V0.47H-1Z", "filled": true, "color": "#e8868b", "size": 4900, "opacity": 1},
           "encoding": {
             "x": {"datum": "TPBank", "type": "nominal"},
             "y": {"datum": -8.4, "type": "quantitative", "scale": {"domain": [0, 70], "range": [185, 30], "nice": false}, "axis": null}
           }},
          {"mark": {"type": "text", "text": "Biz", "font": "Liberation Sans", "fontWeight": "bold", "fontSize": 33, "color": "#a3a3a3", "dx": -19, "align": "center", "baseline": "middle"},
           "encoding": {
             "x": {"datum": "VIB", "type": "nominal"},
             "y": {"datum": -8.4, "type": "quantitative", "scale": {"domain": [0, 70], "range": [185, 30], "nice": false}, "axis": null}
           }},
          {"mark": {"type": "text", "text": "LIVE", "font": "Liberation Sans", "fontSize": 31, "color": "white", "align": "center", "baseline": "middle"},
           "encoding": {
             "x": {"datum": "TPBank", "type": "nominal"},
             "y": {"datum": -8.4, "type": "quantitative", "scale": {"domain": [0, 70], "range": [185, 30], "nice": false}, "axis": null}
           }}
        ],
        "resolve": {"scale": {"y": "independent"}}
      }
    ]
  }
]
}
